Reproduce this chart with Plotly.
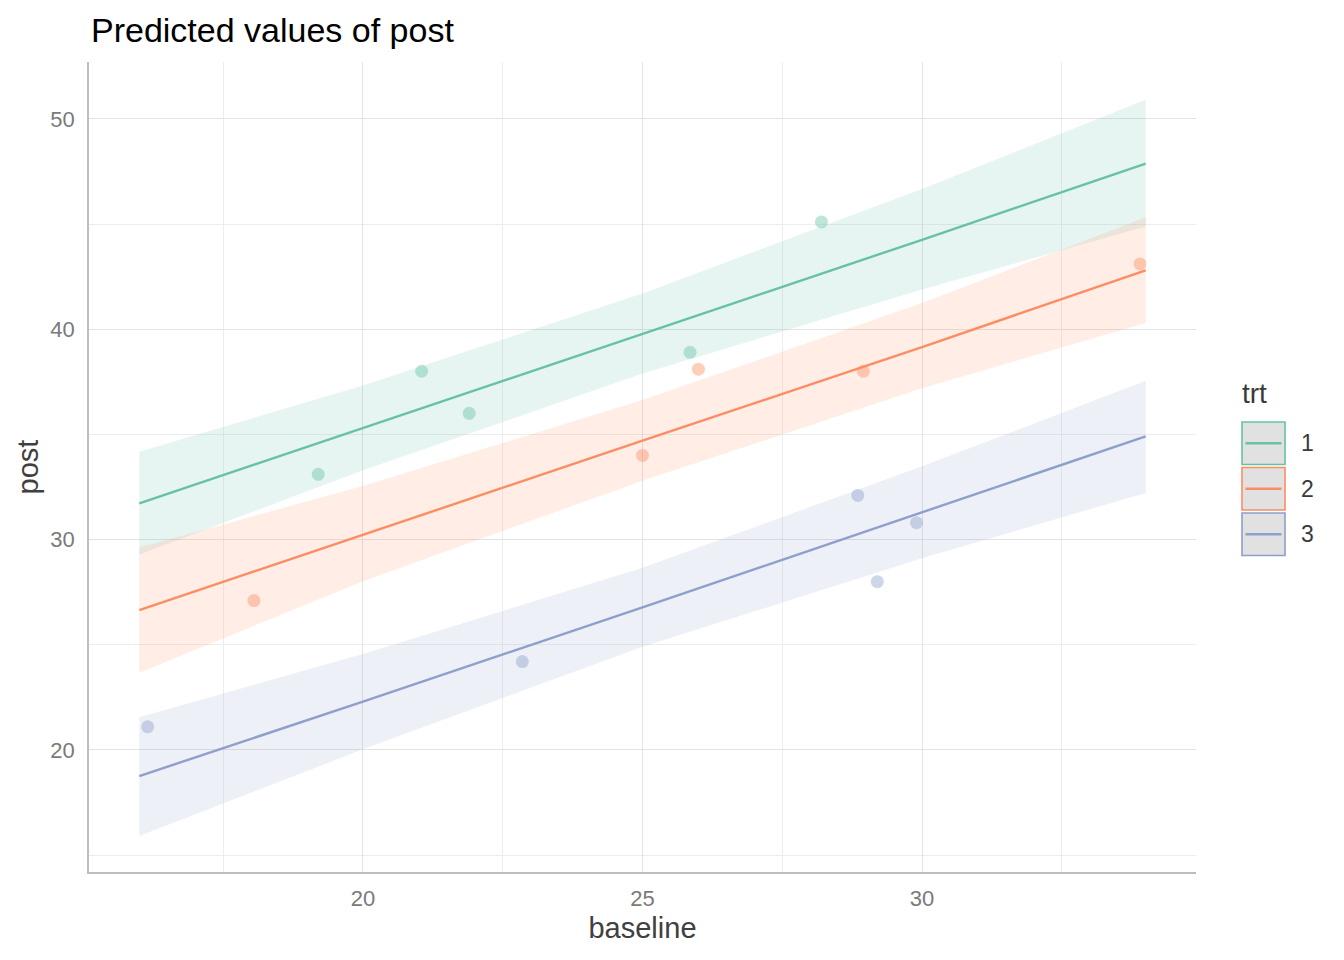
import plotly.graph_objects as go

# ---------------- data ----------------
groups = ["1", "2", "3"]
colors = ["#66C2A5", "#FC8D62", "#8DA0CB"]

pred_x = [16, 20, 25, 30, 34]
pred_1 = [31.72, 35.30, 39.80, 44.25, 47.87]
low_1 = [29.29, 33.29, 37.89, 41.89, 44.88]
up_1 = [34.17, 37.32, 41.70, 46.66, 50.90]

pred_2 = [26.65, 30.24, 34.70, 39.15, 42.80]
low_2 = [23.67, 28.02, 32.80, 37.19, 40.30]
up_2 = [29.62, 32.55, 36.63, 41.24, 45.32]

pred_3 = [18.76, 22.30, 26.78, 31.30, 34.91]
low_3 = [15.91, 20.03, 24.91, 29.11, 32.22]
up_3 = [21.56, 24.56, 28.66, 33.48, 37.55]

obs_x_1 = [19.2, 21.05, 21.9, 25.85, 28.2]
obs_y_1 = [33.1, 38.0, 36.0, 38.9, 45.1]
obs_x_2 = [18.05, 25.0, 26.0, 28.95, 33.9]
obs_y_2 = [27.1, 34.0, 38.1, 38.0, 43.1]
obs_x_3 = [16.15, 22.85, 28.85, 29.2, 29.9]
obs_y_3 = [21.1, 24.2, 32.1, 28.0, 30.8]

x_ticks = [20, 25, 30]
y_ticks = [20, 30, 40, 50]

preds = [pred_1, pred_2, pred_3]
lows = [low_1, low_2, low_3]
ups = [up_1, up_2, up_3]
obs_x = [obs_x_1, obs_x_2, obs_x_3]
obs_y = [obs_y_1, obs_y_2, obs_y_3]


def rgba(hexc, a):
    h = hexc.lstrip("#")
    r, g, b = int(h[0:2], 16), int(h[2:4], 16), int(h[4:6], 16)
    return f"rgba({r},{g},{b},{a})"


fig = go.Figure()

# ribbons
for g, c, lo, up in zip(groups, colors, lows, ups):
    fig.add_trace(go.Scatter(
        x=pred_x + pred_x[::-1], y=up + lo[::-1],
        fill="toself", fillcolor=rgba(c, 0.16), line=dict(width=0),
        mode="lines", hoverinfo="skip", showlegend=False))

# observed points
for g, c, ox, oy in zip(groups, colors, obs_x, obs_y):
    fig.add_trace(go.Scatter(
        x=ox, y=oy, mode="markers",
        marker=dict(size=13, color=rgba(c, 0.43), line=dict(width=0)),
        showlegend=False, name=g))

# predicted lines
for g, c, p in zip(groups, colors, preds):
    fig.add_trace(go.Scatter(
        x=pred_x, y=p, mode="lines", line=dict(color=c, width=2.4),
        showlegend=False, name=g))

# ------------- layout -------------
OFF = 8  # page body margin
W, H = 1344, 960
L, R, T, B = 89, 1196, 62, 872  # plot area in page pixels
pw, ph = R - L, B - T


def px_x(v):
    return (v - L) / pw


def px_y(v):
    return (B - v) / ph


shapes = []
annotations = []
FONT = "Liberation Sans, Arial, sans-serif"
# custom legend
box_tops = [422, 467.5, 513]
box_h = 42.5
for i, (g, c) in enumerate(zip(groups, colors)):
    t = box_tops[i]
    b = t + box_h
    shapes.append(dict(type="rect", xref="paper", yref="paper",
                       x0=px_x(1242), x1=px_x(1285), y0=px_y(b), y1=px_y(t),
                       fillcolor="#E1E1E1", line=dict(color=c, width=1.6),
                       layer="above"))
    ym = (t + b) / 2
    shapes.append(dict(type="line", xref="paper", yref="paper",
                       x0=px_x(1245.5), x1=px_x(1281.5), y0=px_y(ym), y1=px_y(ym),
                       line=dict(color=c, width=2.6), layer="above"))
    annotations.append(dict(text=g, xref="paper", yref="paper",
                            x=px_x(1307), y=px_y(ym), xanchor="center", yanchor="middle",
                            showarrow=False, font=dict(size=23, color="#3A3A3A", family=FONT)))
annotations.append(dict(text="trt", xref="paper", yref="paper",
                        x=px_x(1240), y=px_y(393), xanchor="left", yanchor="middle",
                        showarrow=False, font=dict(size=28, color="#3A3A3A", family=FONT)))
annotations.append(dict(text="Predicted values of post", xref="paper", yref="paper",
                        x=px_x(89), y=px_y(30), xanchor="left", yanchor="middle",
                        showarrow=False, font=dict(size=34, color="black", family=FONT)))

fig.update_layout(
    width=W, height=H,
    margin=dict(l=L - OFF, r=W + OFF - R, t=T - OFF, b=H + OFF - B, pad=0),
    paper_bgcolor="white", plot_bgcolor="white",
    font=dict(family=FONT, color="#333333"),
    showlegend=False,
    shapes=shapes, annotations=annotations,
)

axis_common = dict(
    showgrid=True, gridcolor="#E3E3E3", gridwidth=1.3,
    zeroline=False, showline=True, linecolor="#BDBDBD", linewidth=1.5,
    ticks="outside", tickcolor="rgba(0,0,0,0)",
    tickfont=dict(size=22, color="#7A7A7A"),
    minor=dict(showgrid=True, gridcolor="#EDEDED", gridwidth=1.0),
)

fig.update_xaxes(**axis_common, range=[15.1, 34.9], tickvals=x_ticks,
                 ticklen=6,
                 title=dict(text="baseline", font=dict(size=29, color="#404040"), standoff=8))
fig.update_xaxes(minor=dict(dtick=2.5, tick0=17.5))
fig.update_yaxes(**axis_common, range=[14.2, 52.7], tickvals=y_ticks,
                 ticklen=8,
                 title=dict(text="post", font=dict(size=29, color="#404040"), standoff=3))
fig.update_yaxes(minor=dict(dtick=5, tick0=15))

fig.write_html("out.html")
